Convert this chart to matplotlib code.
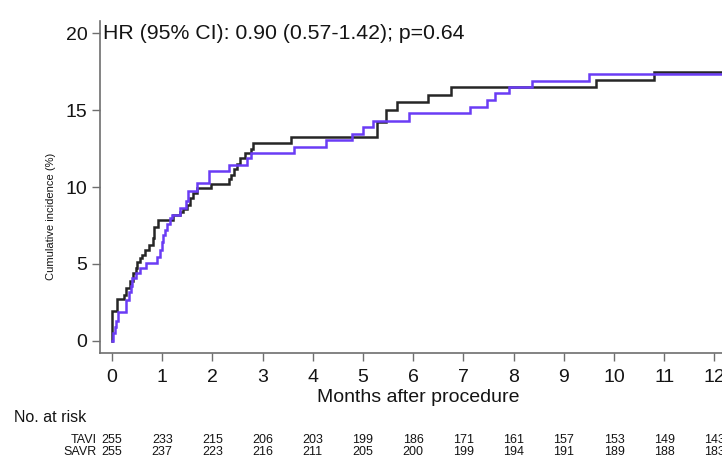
import matplotlib
matplotlib.use("Agg")
import matplotlib.pyplot as plt
from matplotlib import font_manager as fm
from matplotlib.transforms import blended_transform_factory

# ---- data -------------------------------------------------------------
# Cumulative incidence (%) step curves, months after procedure
savr_months = [0.00, 0.00, 0.10, 0.23, 0.28, 0.35, 0.42, 0.47, 0.50, 0.56, 0.60,
               0.66, 0.74, 0.81, 0.84, 0.92, 1.22, 1.35, 1.42, 1.49, 1.55, 1.62,
               1.69, 1.97, 2.33, 2.37, 2.43, 2.48, 2.55, 2.65, 2.76, 2.81, 3.56,
               5.27, 5.46, 5.68, 6.30, 6.75, 9.65, 10.80, 12.20]
savr_inc = [0.00, 1.95, 2.70, 3.00, 3.45, 3.90, 4.40, 4.75, 5.10, 5.40, 5.58,
            5.90, 6.23, 6.70, 7.42, 7.86, 8.18, 8.40, 8.60, 8.83, 9.26, 9.59,
            9.91, 10.20, 10.50, 10.80, 11.15, 11.50, 11.86, 12.20, 12.50, 12.86,
            13.27, 14.24, 15.00, 15.50, 15.97, 16.47, 16.95, 17.45, 17.45]

tavi_months = [0.00, 0.02, 0.05, 0.08, 0.12, 0.27, 0.33, 0.37, 0.40, 0.47, 0.55,
               0.68, 0.89, 0.95, 0.99, 1.02, 1.06, 1.10, 1.15, 1.20, 1.35, 1.47,
               1.52, 1.69, 1.93, 2.33, 2.68, 2.76, 3.63, 4.26, 4.79, 4.99, 5.19,
               5.92, 7.13, 7.46, 7.63, 7.91, 8.37, 9.51, 12.20]
tavi_inc = [0.00, 0.50, 0.90, 1.30, 1.90, 2.66, 3.20, 3.60, 4.07, 4.40, 4.72,
            5.04, 5.48, 5.91, 6.40, 6.90, 7.20, 7.60, 8.00, 8.20, 8.61, 9.10,
            9.75, 10.24, 11.05, 11.43, 11.86, 12.20, 12.62, 13.05, 13.44, 13.92,
            14.31, 14.78, 15.22, 15.65, 16.08, 16.47, 16.88, 17.34, 17.34]

# Number at risk table
risk_months = list(range(13))
risk_groups = ["TAVI", "SAVR"]
risk_tavi = [255, 233, 215, 206, 203, 199, 186, 171, 161, 157, 153, 149, 143]
risk_savr = [255, 237, 223, 216, 211, 205, 200, 199, 194, 191, 189, 188, 183]

y_ticks = [0, 5, 10, 15, 20]
hr_text = "HR (95% CI): 0.90 (0.57-1.42); p=0.64"

# ---- fonts ------------------------------------------------------------
installed = {f.name for f in fm.fontManager.ttflist}
base_font = "Liberation Sans" if "Liberation Sans" in installed else "DejaVu Sans"
narrow_font = "Liberation Sans Narrow" if "Liberation Sans Narrow" in installed else base_font
plt.rcParams["font.family"] = [base_font, "DejaVu Sans"]

TEXT = "#141414"
AXIS = "#6e6e6e"
BLACK_LINE = "#262626"
PURPLE_LINE = "#6a3cf5"

# ---- figure -----------------------------------------------------------
W, H = 722, 458
fig = plt.figure(figsize=(W / 100, H / 100), dpi=100)
ax = fig.add_axes([100 / W, 1 - 353 / H, (W - 100) / W, (353 - 21) / H])

ax.step(savr_months, savr_inc, where="post", color=BLACK_LINE, lw=1.8,
        solid_joinstyle="miter")
ax.step(tavi_months, tavi_inc, where="post", color=PURPLE_LINE, lw=1.8,
        solid_joinstyle="miter")

ax.set_xlim(-0.239, 12.15)
ax.set_ylim(-0.78, 20.78)
ax.set_xticks(risk_months)
ax.set_yticks(y_ticks)

for side in ("top", "right"):
    ax.spines[side].set_visible(False)
for side in ("left", "bottom"):
    ax.spines[side].set_color(AXIS)
    ax.spines[side].set_linewidth(1.2)

ax.tick_params(axis="both", direction="out", color=AXIS, width=1.0,
               labelsize=14, labelcolor=TEXT)
ax.tick_params(axis="y", length=6, pad=3)
ax.tick_params(axis="x", length=5.5, pad=6)

ax.text(-0.18, 20, hr_text, ha="left", va="center", fontsize=15.3, color=TEXT)

ax.set_ylabel("Cumulative incidence (%)", fontsize=8.0, family=narrow_font,
              color=TEXT)
ax.yaxis.set_label_coords(-(100 - 56) / (W - 100), (353 - 216) / (353 - 21))

fig.text(418 / W, 1 - 397 / H, "Months after procedure", ha="center",
         va="center", fontsize=14, color=TEXT)

# ---- number at risk ---------------------------------------------------
fig.text(14 / W, 1 - 417 / H, "No. at risk", ha="left", va="center",
         fontsize=11.5, color=TEXT)

trans = blended_transform_factory(ax.transData, fig.transFigure)
for label, counts, ypix in zip(risk_groups, [risk_tavi, risk_savr], [440, 452]):
    yf = 1 - ypix / H
    fig.text(97 / W, yf, label, ha="right", va="center", fontsize=9,
             family=narrow_font, color=TEXT)
    for m, n in zip(risk_months, counts):
        ax.text(m, yf, str(n), transform=trans, ha="center", va="center",
                fontsize=9, family=narrow_font, color=TEXT, clip_on=False)

fig.savefig("out.png", dpi=100)
